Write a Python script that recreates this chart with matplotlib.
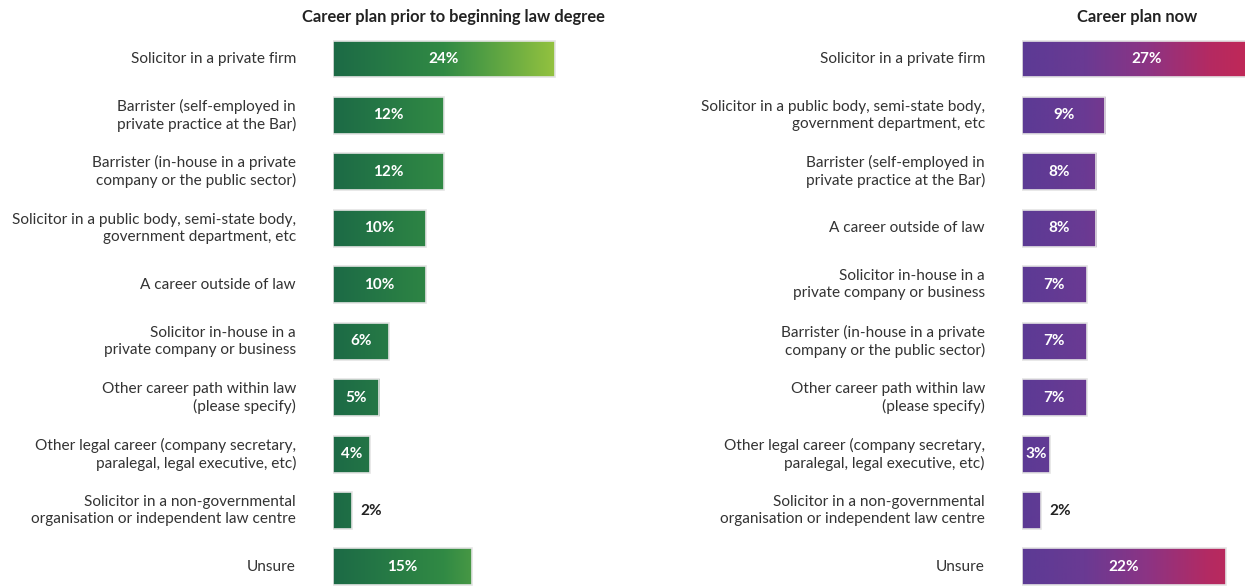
import numpy as np
import matplotlib
matplotlib.use("Agg")
import matplotlib.pyplot as plt
from matplotlib.colors import LinearSegmentedColormap
from matplotlib.patches import Rectangle

plt.rcParams["font.family"] = ["Lato", "DejaVu Sans"]

# ── data ──
before_labels = [
    "Solicitor in a private firm",
    "Barrister (self-employed in\nprivate practice at the Bar)",
    "Barrister (in-house in a private\ncompany or the public sector)",
    "Solicitor in a public body, semi-state body,\ngovernment department, etc",
    "A career outside of law",
    "Solicitor in-house in a\nprivate company or business",
    "Other career path within law\n(please specify)",
    "Other legal career (company secretary,\nparalegal, legal executive, etc)",
    "Solicitor in a non-governmental\norganisation or independent law centre",
    "Unsure",
]
before_values = [24, 12, 12, 10, 10, 6, 5, 4, 2, 15]

now_labels = [
    "Solicitor in a private firm",
    "Solicitor in a public body, semi-state body,\ngovernment department, etc",
    "Barrister (self-employed in\nprivate practice at the Bar)",
    "A career outside of law",
    "Solicitor in-house in a\nprivate company or business",
    "Barrister (in-house in a private\ncompany or the public sector)",
    "Other career path within law\n(please specify)",
    "Other legal career (company secretary,\nparalegal, legal executive, etc)",
    "Solicitor in a non-governmental\norganisation or independent law centre",
    "Unsure",
]
now_values = [27, 9, 8, 8, 7, 7, 7, 3, 2, 22]

greens = LinearSegmentedColormap.from_list(
    "g", [(0, "#1c6a46"), (0.5, "#318a44"), (0.65, "#4c9b44"), (1, "#93c23f")])
purples = LinearSegmentedColormap.from_list(
    "p", ["#5c3a95", "#6a3a93", "#8c3484", "#b42a62", "#c82750"])

W, H = 1245, 586
fig = plt.figure(figsize=(W / 100, H / 100), dpi=100)
PX = 9.25  # pixels per percent

top_px, bottom_px = 31, 586


def panel(x0_px, labels, values, cmap, grad_max, title, title_x):
    width_px = min(W - x0_px, 30 * PX)
    ax = fig.add_axes([x0_px / W, 1 - bottom_px / H,
                       width_px / W, (bottom_px - top_px) / H])
    ax.set_xlim(0, width_px / PX)
    ax.axis("off")
    grad = np.linspace(0, 1, 256).reshape(1, -1)
    for i, (lab, v) in enumerate(zip(labels, values)):
        h = 0.655
        im = ax.imshow(grad, cmap=cmap, aspect="auto",
                       extent=(0, grad_max, i + h / 2, i - h / 2), zorder=2)
        rect = Rectangle((0, i - h / 2), v, h, facecolor="none",
                         edgecolor="#e4e4e4", lw=1.2, zorder=3)
        ax.add_patch(rect)
        im.set_clip_path(Rectangle((0, i - h / 2), v, h, transform=ax.transData))
        if v >= 3:
            ax.text(v / 2, i, f"{v}%", ha="center", va="center", color="white",
                    fontsize=11, fontweight="bold", zorder=4)
        else:
            ax.text(v + 1, i, f"{v}%", ha="left", va="center", color="#222222",
                    fontsize=11, fontweight="bold", zorder=4)
        ax.text(-4, i, lab, ha="right", va="center", color="#333333",
                fontsize=11.1, linespacing=1.25, zorder=4)
    fig.text(title_x / W, 1 - 17 / H, title, ha="center", va="center",
             fontsize=11.9, fontweight="bold", color="#222222")
    ax.set_ylim(9.337, -0.496)
    return ax


panel(333, before_labels, before_values, greens, 24,
      "Career plan prior to beginning law degree", 453)
panel(1022, now_labels, now_values, purples, 27,
      "Career plan now", 1137)

fig.savefig("out.png", dpi=100, facecolor="white")
